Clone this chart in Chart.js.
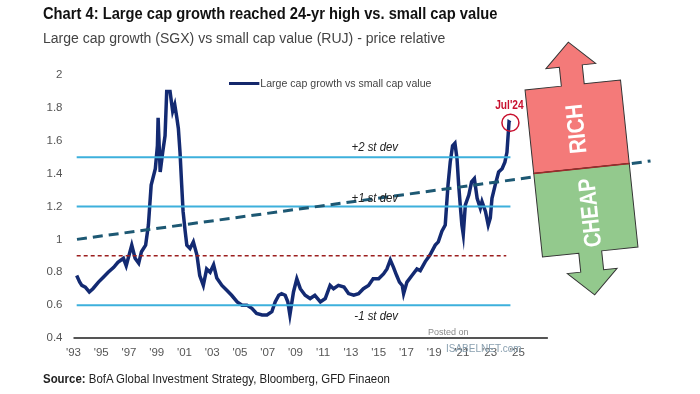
<!DOCTYPE html>
<html lang="en">
<head>
  <meta charset="UTF-8" />
  <title>Large cap growth vs small cap value</title>
  <script src="https://cdn.jsdelivr.net/npm/chart.js"></script>
  <style>
    body { margin: 0; background: #fff; font-family: 'Liberation Sans', Arial, sans-serif; }
    #wrap { position: relative; width: 700px; height: 394px; overflow: hidden; }
    #chart { position: absolute; left: 0; top: 0; }
    .txt { position: absolute; white-space: nowrap; transform-origin: left top; }
    #title { left: 43px; top: 4px; font-size: 17px; font-weight: bold; color: #111; transform: scaleX(0.865); }
    #subtitle { left: 43px; top: 29px; font-size: 15.5px; color: #444; transform: scaleX(0.905); }
    #legend { left: 229px; top: 77px; font-size: 11.5px; color: #444; transform: scaleX(0.92); }
    #legend span { display: inline-block; width: 33px; height: 3px; background: #14276b; vertical-align: middle; margin-right: 1px; }
    #source { left: 43px; top: 372px; font-size: 12.5px; color: #222; transform: scaleX(0.915); }
    #posted { left: 428px; top: 327px; font-size: 9px; color: #8a8a8a; }
    #isabel { left: 446px; top: 343px; font-size: 10px; color: #8aa0b0; }
  </style>
</head>
<body>
<div id="wrap">
  <canvas id="chart" width="700" height="394"></canvas>
  <div class="txt" id="title">Chart 4: Large cap growth reached 24-yr high vs. small cap value</div>
  <div class="txt" id="subtitle">Large cap growth (SGX) vs small cap value (RUJ) - price relative</div>
  <div class="txt" id="legend"><span></span>Large cap growth vs small cap value</div>
  <div class="txt" id="source"><b>Source:</b> BofA Global Investment Strategy, Bloomberg, GFD Finaeon</div>
  <div class="txt" id="posted">Posted on</div>
  <div class="txt" id="isabel">ISABELNET.com</div>
</div>

<script>
  // price relative (year as decimal)
  const years = [
    1993.23, 1993.45, 1993.6, 1993.85, 1994.14, 1994.4, 1994.8, 1995.15, 1995.5, 1995.9,
    1996.2, 1996.6, 1996.8, 1997.2, 1997.44, 1997.7, 1997.9, 1998.2, 1998.4, 1998.5,
    1998.6, 1998.9, 1999.05, 1999.1, 1999.25, 1999.43, 1999.6, 1999.72, 1999.96, 2000.15,
    2000.3, 2000.45, 2000.56, 2000.68, 2000.8, 2000.9, 2001.05, 2001.17, 2001.4, 2001.64,
    2001.9, 2002.1, 2002.36, 2002.6, 2002.85, 2003.1, 2003.33, 2003.7, 2004.05, 2004.4,
    2004.8, 2005.15, 2005.5, 2005.86, 2006.2, 2006.6, 2006.95, 2007.3, 2007.54, 2007.8,
    2008.0, 2008.26, 2008.45, 2008.6, 2008.86, 2009.1, 2009.35, 2009.7, 2010.06, 2010.4,
    2010.8, 2011.15, 2011.5, 2011.75, 2012.1, 2012.5, 2012.83, 2013.2, 2013.55, 2013.9,
    2014.27, 2014.6, 2015.0, 2015.35, 2015.6, 2015.84, 2016.07, 2016.3, 2016.5, 2016.7,
    2016.8, 2017.04, 2017.4, 2017.76, 2018.0, 2018.36, 2018.7, 2019.08, 2019.3, 2019.56,
    2019.8, 2019.9, 2020.0, 2020.16, 2020.33, 2020.5, 2020.65, 2020.77, 2020.9, 2021.0,
    2021.1, 2021.25, 2021.5, 2021.7, 2021.9, 2022.1, 2022.33, 2022.45, 2022.7, 2022.9,
    2023.05, 2023.17, 2023.4, 2023.65, 2023.9, 2024.1, 2024.25, 2024.4, 2024.5
  ];
  const ratio = [
    0.78, 0.74, 0.72, 0.71, 0.68, 0.70, 0.74, 0.77, 0.80, 0.83,
    0.86, 0.885, 0.84, 0.965, 0.885, 0.855, 0.925, 0.965, 1.087, 1.21,
    1.33, 1.43, 1.57, 1.74, 1.41, 1.53, 1.63, 1.90, 1.90, 1.78,
    1.82, 1.74, 1.675, 1.53, 1.33, 1.17, 1.05, 0.965, 0.945, 0.985,
    0.905, 0.78, 0.72, 0.82, 0.80, 0.845, 0.765, 0.72, 0.69, 0.66,
    0.62, 0.60, 0.60, 0.58, 0.55, 0.54, 0.54, 0.56, 0.62, 0.66,
    0.67, 0.66, 0.62, 0.54, 0.68, 0.76, 0.70, 0.66, 0.64, 0.66,
    0.62, 0.64, 0.72, 0.70, 0.72, 0.71, 0.67, 0.66, 0.67, 0.70,
    0.72, 0.76, 0.76, 0.79, 0.82, 0.875, 0.83, 0.78, 0.74, 0.72,
    0.67, 0.74, 0.78, 0.82, 0.81, 0.865, 0.905, 0.965, 0.985, 1.05,
    1.087, 1.21, 1.33, 1.47, 1.57, 1.585, 1.49, 1.33, 1.19, 1.087,
    1.03, 1.21, 1.27, 1.35, 1.37, 1.25, 1.19, 1.23, 1.17, 1.087,
    1.13, 1.25, 1.33, 1.41, 1.43, 1.47, 1.53, 1.715, 1.71
  ];

  const plus2 = 1.5, plus1 = 1.2, mean = 0.9, minus1 = 0.6;
  const trendStart = [1993.25, 1.0], trendEnd = [2034.6, 1.477];
  const xTicks = [1993, 1995, 1997, 1999, 2001, 2003, 2005, 2007, 2009, 2011, 2013, 2015, 2017, 2019, 2021, 2023, 2025];

  const first = years[0], last = years[years.length - 1];
  const hline = (v, color, extra) => Object.assign({
    data: [{ x: first, y: v }, { x: last, y: v }],
    borderColor: color, borderWidth: 2, pointRadius: 0
  }, extra || {});

  const FONT = "'Liberation Sans', Arial, sans-serif";

  // narrow text: squeeze horizontally around the anchor
  function narrowText(ctx, text, px, py, sx) {
    ctx.save();
    ctx.translate(px, py);
    ctx.scale(sx, 1);
    ctx.fillText(text, 0, 0);
    ctx.restore();
  }

  // labels, Jul'24 marker and the rich/cheap arrow
  const extras = {
    id: 'extras',
    afterDatasetsDraw(chart) {
      const { ctx, scales: { x, y } } = chart;
      ctx.save();
      ctx.fillStyle = '#222';
      ctx.font = "italic 12px " + FONT;
      ctx.textAlign = 'right';
      ctx.textBaseline = 'middle';
      narrowText(ctx, '+2 st dev', x.getPixelForValue(2016.4), y.getPixelForValue(1.556), 0.95);
      narrowText(ctx, '+1 st dev', x.getPixelForValue(2016.4), y.getPixelForValue(1.245), 0.95);
      narrowText(ctx, '-1 st dev', x.getPixelForValue(2016.4), y.getPixelForValue(0.528), 0.95);

      // Jul'24 circle
      const cx = x.getPixelForValue(last), cy = y.getPixelForValue(ratio[ratio.length - 1]);
      ctx.strokeStyle = '#c8102e';
      ctx.lineWidth = 1.5;
      ctx.beginPath();
      ctx.arc(cx, cy, 8.5, 0, Math.PI * 2);
      ctx.stroke();
      ctx.fillStyle = '#c8102e';
      ctx.font = "bold 12px " + FONT;
      ctx.textAlign = 'center';
      narrowText(ctx, "Jul'24", cx - 1, cy - 17, 0.85);

      // rich / cheap double arrow
      ctx.translate(581.5, 168.5);
      ctx.rotate(-0.104);
      ctx.lineWidth = 1;
      ctx.strokeStyle = '#333';
      const half = (sign, fill) => {
        ctx.beginPath();
        ctx.moveTo(-48, 0);
        ctx.lineTo(-48, sign * 84);
        ctx.lineTo(-11.5, sign * 84);
        ctx.lineTo(-11.5, sign * 103);
        ctx.lineTo(-25, sign * 103);
        ctx.lineTo(0, sign * 127);
        ctx.lineTo(25, sign * 103);
        ctx.lineTo(11.5, sign * 103);
        ctx.lineTo(11.5, sign * 84);
        ctx.lineTo(48, sign * 84);
        ctx.lineTo(48, 0);
        ctx.closePath();
        ctx.fillStyle = fill;
        ctx.fill();
        ctx.stroke();
      };
      half(-1, '#f47a79');
      half(1, '#93c98d');
      ctx.strokeStyle = '#9e2a2a';
      ctx.lineWidth = 1.5;
      ctx.beginPath();
      ctx.moveTo(-48, 0);
      ctx.lineTo(48, 0);
      ctx.stroke();
      ctx.rotate(-Math.PI / 2);
      ctx.fillStyle = '#fff';
      ctx.font = "bold 24px " + FONT;
      ctx.textAlign = 'center';
      ctx.textBaseline = 'middle';
      narrowText(ctx, 'RICH', 40, 0, 0.85);
      narrowText(ctx, 'CHEAP', -45, 5, 0.82);
      ctx.restore();
    }
  };

  new Chart(document.getElementById('chart'), {
    type: 'line',
    data: {
      datasets: [
        {
          data: [{ x: trendStart[0], y: trendStart[1] }, { x: trendEnd[0], y: trendEnd[1] }],
          borderColor: '#1d5873', borderWidth: 3, borderDash: [10, 6], pointRadius: 0, clip: false
        },
        hline(plus2, '#3db0dc'),
        hline(plus1, '#3db0dc'),
        hline(minus1, '#3db0dc'),
        hline(mean, '#9c1f1f', { borderWidth: 1.5, borderDash: [4, 3], data: [{ x: first, y: mean }, { x: 2024.2, y: mean }] }),
        {
          data: [{ x: 1993, y: 0.4 }, { x: 2027.2, y: 0.4 }],
          borderColor: '#555', borderWidth: 2, pointRadius: 0, clip: false
        },
        {
          label: 'Large cap growth vs small cap value',
          data: years.map((yr, i) => ({ x: yr, y: ratio[i] })),
          borderColor: '#132a72', borderWidth: 3.5, pointRadius: 0, tension: 0
        }
      ]
    },
    options: {
      responsive: false,
      animation: false,
      devicePixelRatio: 1,
      layout: { padding: { top: 75, left: 0, right: 37, bottom: 26 } },
      plugins: { legend: { display: false }, tooltip: { enabled: false } },
      scales: {
        x: {
          type: 'linear',
          min: 1993,
          max: 2035.5,
          grid: { display: false, drawTicks: false },
          border: { display: false },
          afterBuildTicks: s => { s.ticks = xTicks.map(v => ({ value: v })); },
          afterFit: s => { s.height = 30; },
          ticks: {
            padding: 8,
            maxRotation: 0,
            autoSkip: false,
            color: '#555',
            font: { family: FONT, size: 11.5 },
            callback: v => "'" + String(v).slice(2)
          }
        },
        y: {
          min: 0.4,
          max: 2,
          grid: { display: false, drawTicks: false },
          border: { display: false },
          afterFit: s => { s.width = 73.5; },
          ticks: {
            stepSize: 0.2,
            padding: 11,
            color: '#555',
            font: { family: FONT, size: 11.5 },
            callback: v => String(+v.toFixed(1))
          }
        }
      }
    },
    plugins: [extras]
  });
</script>
</body>
</html>
